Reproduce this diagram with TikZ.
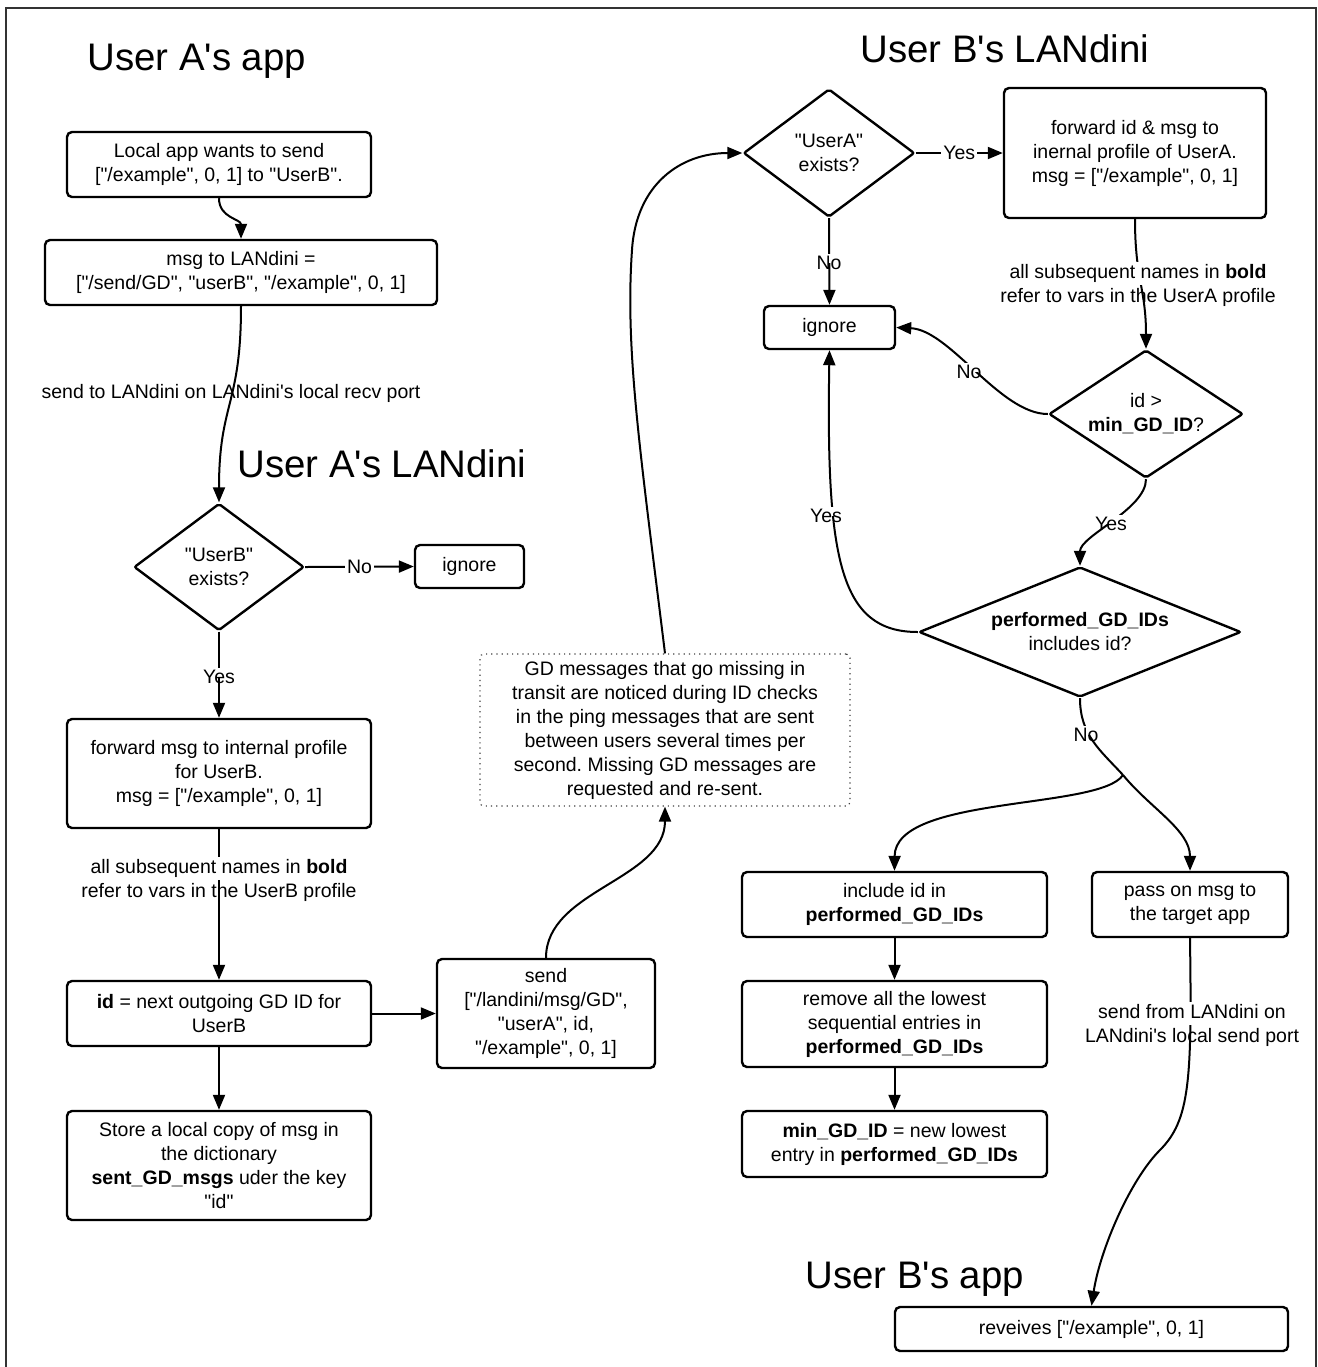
\documentclass[tikz,border=0pt]{standalone}
\usepackage{fontspec}
\newfontfamily\lib{Liberation Sans}
\usetikzlibrary{arrows.meta,shapes.geometric}
\pgfdeclarelayer{bg}
\pgfdeclarelayer{mid}
\pgfsetlayers{bg,mid,main}
\frenchspacing
\newcommand\lbg[1]{\fill[white] (#1.north west) rectangle (#1.east);}
\tikzset{
  base/.style={font=\lib\fontsize{9.75}{12}\selectfont, align=center},
  box/.style={base, draw, line width=1.2pt, rounded corners=2.5pt, inner sep=0pt},
  dia/.style={base, draw, line width=1.2pt, diamond, rounded corners=1pt, inner sep=0pt},
  notebox/.style={base, draw=black!75, dotted, line width=0.6pt, rounded corners=2pt, inner sep=0pt},
  lab/.style={base, inner sep=1pt},
  hlab/.style={base, inner sep=1pt, fill=white},
  ttl/.style={font=\lib\fontsize{19.2}{22}\selectfont, anchor=base west, inner sep=0pt},
  conn/.style={line width=1pt},
  arr/.style={conn, -{Triangle[length=7.5pt,width=6pt]}},
}
\begin{document}
\frenchspacing
\begin{tikzpicture}[x=0.5pt,y=-0.5pt]
\useasboundingbox (0,0) rectangle (1318,1367);
\draw[line width=0.6pt, black!80] (6,1367) -- (6,8) -- (1316,8) -- (1316,1367);

% titles
\node[ttl] (tA1) at (87,70) {User A's app};
\node[ttl] (tA2) at (237,477) {User A's LANdini};
\node[ttl] (tB1) at (860,62) {User B's LANdini};
\node[ttl] (tB2) at (805,1288) {User B's app};

% left column
\node[box, minimum width=152pt, minimum height=32.5pt] (b1) at (219,164.5) {Local app wants to send\\{[}"/example", 0, 1] to "UserB".};
\node[box, minimum width=196pt, minimum height=32.5pt] (b2) at (241,272.5) {msg to LANdini =\\{[}"/send/GD", "userB", "/example", 0, 1]};
\node[lab] (lbl1) at (231,393) {send to LANdini on LANdini's local recv port};
\node[dia, minimum width=85pt, minimum height=63.5pt, aspect=1.33] (d1) at (219,567) {"UserB"\\exists?};
\node[box, minimum width=54.5pt, minimum height=21.5pt] (ig1) at (469.5,566.5) {ignore};
\node[box, minimum width=152pt, minimum height=54.5pt] (b3) at (219,773.5) {forward msg to internal profile\\for UserB.\\msg = {[}"/example", 0, 1]};
\node[lab] (lbl2) at (219,880) {all subsequent names in \textbf{bold}\\refer to vars in the UserB profile};
\node[box, minimum width=152pt, minimum height=32.5pt] (b4) at (219,1013.5) {\textbf{id} = next outgoing GD ID for\\UserB};
\node[box, minimum width=152pt, minimum height=54.5pt] (b5) at (219,1165.5) {Store a local copy of msg in\\the dictionary\\\textbf{sent\_GD\_msgs} uder the key\\"id"};
\node[box, minimum width=109pt, minimum height=54.5pt] (sb) at (546,1013.5) {send\\{[}"/landini/msg/GD",\\"userA", id,\\"/example", 0, 1]};
\node[notebox, minimum width=185pt, minimum height=76pt] (note) at (665,730) {GD messages that go missing in\\transit are noticed during ID checks\\in the ping messages that are sent\\between users several times per\\second. Missing GD messages are\\requested and re-sent.};

% right column
\node[dia, minimum width=85.5pt, minimum height=64pt, aspect=1.33] (d2) at (829,153) {"UserA"\\exists?};
\node[box, minimum width=131pt, minimum height=65pt] (b6) at (1135,153) {forward id \& msg to\\inernal profile of UserA.\\msg = {[}"/example", 0, 1]};
\node[box, minimum width=65.5pt, minimum height=21.5pt] (ig2) at (829.5,327.5) {ignore};
\node[lab] (lbl3) at (1138,285) {all subsequent names in \textbf{bold}\\refer to vars in the UserA profile};
\node[dia, minimum width=97pt, minimum height=64pt, aspect=1.5] (d3) at (1146,414) {id >\\\textbf{min\_GD\_ID}?};
\node[dia, minimum width=161pt, minimum height=65pt, aspect=2.5] (d4) at (1080,632) {\textbf{performed\_GD\_IDs}\\includes id?};
\node[box, minimum width=152.5pt, minimum height=32.5pt] (inc) at (894.5,904.5) {include id in\\\textbf{performed\_GD\_IDs}};
\node[box, minimum width=98pt, minimum height=32.5pt] (pass) at (1190,904.5) {pass on msg to\\the target app};
\node[box, minimum width=152.5pt, minimum height=43pt] (rem) at (894.5,1024) {remove all the lowest\\sequential entries in\\\textbf{performed\_GD\_IDs}};
\node[box, minimum width=152.5pt, minimum height=33pt] (minb) at (894.5,1144) {\textbf{min\_GD\_ID} = new lowest\\entry in \textbf{performed\_GD\_IDs}};
\node[lab] (lbl4) at (1192,1025) {send from LANdini on\\LANdini's local send port};
\node[box, minimum width=196.5pt, minimum height=22pt] (rcv) at (1091.5,1329) {reveives ["/example", 0, 1]};

\node[lab] (yes1) at (219,677) {Yes};
\node[lab] (no2) at (829,263) {No};
\node[lab] (no3) at (969,372) {No};
\node[lab] (yes3) at (1111,524) {Yes};
\node[lab] (yes4) at (826,516) {Yes};
\node[lab] (no4) at (1086,735) {No};

\begin{pgfonlayer}{mid}
\lbg{lbl2}\lbg{lbl3}\lbg{lbl4}\lbg{yes1}\lbg{no2}\lbg{no3}\lbg{yes3}\lbg{yes4}\lbg{no4}
\end{pgfonlayer}

\begin{pgfonlayer}{bg}
\draw[arr] (b1.south) .. controls +(0,20) and +(0,-20) .. (b2.north);
\draw[arr] (b2.south) .. controls +(0,100) and +(0,-100) .. (d1.north);
\draw[arr] (d1.east) -- node[hlab] (no1) {No} (ig1.west);
\draw[arr] (d1.south) -- (b3.north);
\draw[arr] (b3.south) -- (b4.north);
\draw[arr] (b4.south) -- (b5.north);
\draw[arr] (b4.east) -- (sb.west);
\draw[arr] (sb.north) .. controls (546,890) and (665,880) .. (note.south);
\draw[arr] (note.north) .. controls (640,450) and (625,350) .. (632,250) .. controls (636,185) and (680,153) .. (d2.west);
\draw[arr] (d2.east) -- node[hlab] (yes2) {Yes} (b6.west);
\draw[arr] (d2.south) -- (ig2.north);
\draw[arr] (b6.south) .. controls +(0,60) and +(0,-60) .. (d3.north);
\draw[arr] (d3.west) .. controls (1000,414) and (950,330) .. (ig2.east);
\draw[arr] (d3.south) .. controls +(0,30) and +(0,-30) .. (d4.north);
\draw[arr] (d4.west) .. controls (840,632) and (826,560) .. (ig2.south);
\coordinate (sp) at (1123,775);
\draw[conn] (d4.south) .. controls (1080,735) and (1100,750) .. (sp);
\draw[arr] (sp) .. controls (1100,810) and (895,795) .. (inc.north);
\draw[arr] (sp) .. controls (1150,808) and (1190,830) .. (pass.north);
\draw[arr] (inc.south) -- (rem.north);
\draw[arr] (rem.south) -- (minb.north);
\draw[arr] (pass.south) .. controls (1192,1080) and (1190,1120) .. (1160,1150) .. controls (1130,1180) and (1100,1250) .. (rcv.north);
\end{pgfonlayer}
\end{tikzpicture}
\end{document}
